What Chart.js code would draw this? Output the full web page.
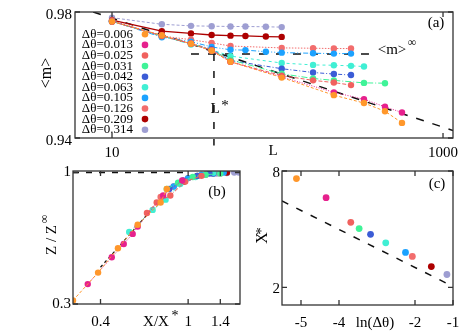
<!DOCTYPE html>
<html>
<head>
<meta charset="utf-8">
<script src="https://cdn.jsdelivr.net/npm/chart.js@4.4.1/dist/chart.umd.min.js"></script>
<style>
  html, body { margin: 0; padding: 0; background: #fff; }
  body { width: 474px; height: 332px; position: relative; overflow: hidden; }
  canvas { position: absolute; }
  #chartA { left: 0; top: 0; width: 474px; height: 160px; }
  #chartB { left: 0; top: 160px; width: 250px; height: 172px; }
  #chartC { left: 250px; top: 160px; width: 224px; height: 172px; }
</style>
</head>
<body>
<canvas id="chartA" width="474" height="160"></canvas>
<canvas id="chartB" width="250" height="172"></canvas>
<canvas id="chartC" width="224" height="172"></canvas>
<script>
// series labels and styles
const dTheta = ['0.006', '0.013', '0.025', '0.031', '0.042', '0.063', '0.105', '0.126', '0.209', '0.314'];
const colors = ['#ff972b', '#e6218d', '#f0615e', '#3ff398', '#3b5cd6', '#40efd4', '#1ca2ff', '#f26d6d', '#ad0000', '#9e9ed2'];
const dashes = [[3, 2], [1, 1.5], [4, 2], [6, 2, 1, 2], [4, 2, 1, 2], [3, 3], [5, 2, 1, 2, 1, 2], [1.5, 1.5], [], [3, 2]];

// (a) <m> against L
const sizeL = [
  [10, 20, 30, 40, 52, 106, 219, 333, 446, 565],
  [10, 20, 30, 40, 52, 106, 219, 333, 446, 565],
  [10, 20, 30, 40, 52, 106, 164, 219, 278],
  [10, 20, 30, 40, 52, 106, 164, 219, 333, 446],
  [10, 20, 30, 40, 52, 106, 164, 219, 278],
  [10, 20, 30, 40, 52, 106, 164, 219, 278, 333],
  [10, 20, 30, 40, 52, 64, 85, 106, 164, 219, 278],
  [10, 20, 30, 40, 52, 106, 164, 219, 278],
  [10, 20, 30, 40, 52, 64, 85, 106],
  [10, 20, 30, 40, 52, 64, 85, 106]
];
const meanM = [
  [0.9770, 0.9726, 0.9699, 0.9677, 0.9642, 0.9592, 0.9536, 0.9511, 0.9485, 0.9448],
  [0.9770, 0.9726, 0.9699, 0.9677, 0.9642, 0.9594, 0.9545, 0.9523, 0.9499, 0.9481],
  [0.9770, 0.9724, 0.9700, 0.9679, 0.9642, 0.9598, 0.9583, 0.9576, 0.9568],
  [0.9770, 0.9724, 0.9700, 0.9679, 0.9648, 0.9604, 0.9589, 0.9583, 0.9575, 0.9574],
  [0.9770, 0.9724, 0.9700, 0.9682, 0.9646, 0.9620, 0.9608, 0.9603, 0.9600],
  [0.9770, 0.9724, 0.9697, 0.9680, 0.9660, 0.9638, 0.9632, 0.9631, 0.9629, 0.9627],
  [0.9771, 0.9720, 0.9706, 0.9689, 0.9680, 0.9679, 0.9674, 0.9671, 0.9669, 0.9668, 0.9668],
  [0.9773, 0.9724, 0.9712, 0.9702, 0.9692, 0.9686, 0.9685, 0.9684, 0.9684],
  [0.9774, 0.9739, 0.9732, 0.9727, 0.9725, 0.9724, 0.9722, 0.9721],
  [0.9782, 0.9761, 0.9756, 0.9755, 0.9754, 0.9754, 0.9753, 0.9752]
];
const fitL = [7.7, 1150];
const fitM = [0.980, 0.9424];
const mInf = 0.9667;
const mInfL = [30, 378];
const lStar = 41.3;
const lStarM = [0.9667, 0.9376];

// (b) Z/Z_inf against X/X*
const scaledX = [
  [0.30, 0.39, 0.48, 0.59, 0.75, 0.80],
  [0.35, 0.45, 0.51, 0.56, 0.59, 0.77, 0.94],
  [0.65, 0.72, 0.83, 0.97, 1.15],
  [0.80, 0.90, 1.05, 1.20, 1.40],
  [0.82, 0.95, 1.10, 1.25],
  [0.54, 0.69, 0.79, 0.92, 1.08, 1.30],
  [0.86, 1.00, 1.15, 1.30, 1.45],
  [0.75, 0.86, 1.00, 1.20, 1.40],
  [0.96, 1.10, 1.30, 1.50],
  [1.20, 1.35, 1.50, 1.62, 1.70]
];
const scaledZ = [
  [0.31, 0.40, 0.50, 0.62, 0.76, 0.86],
  [0.36, 0.46, 0.52, 0.57, 0.61, 0.81, 0.93],
  [0.69, 0.76, 0.81, 0.92, 0.97],
  [0.86, 0.91, 0.96, 0.98, 0.99],
  [0.86, 0.93, 0.97, 0.99],
  [0.58, 0.71, 0.78, 0.90, 0.96, 1.00],
  [0.88, 0.95, 0.98, 0.99, 1.00],
  [0.80, 0.88, 0.95, 0.98, 0.99],
  [0.92, 0.97, 0.99, 1.00],
  [0.985, 0.99, 0.995, 1.00, 1.00]
];
const slopeX = [0.40, 0.70];
const slopeZ = [0.42, 0.73];
const plateauX = [0.30, 0.95];

// (c) X* against ln(dTheta)
const lnTheta = [-5.12, -4.34, -3.69, -3.47, -3.17, -2.77, -2.25, -2.07, -1.57, -1.16];
const xStar = [7.31, 5.82, 4.34, 4.03, 3.76, 3.40, 3.03, 2.89, 2.56, 2.33];
const lineLn = [-5.5, -1];
const lineX = [5.6, 2.02];

const serif = 'Liberation Serif';
Chart.defaults.font.family = serif;
Chart.defaults.font.size = 15;
Chart.defaults.color = '#000';

const framePlugin = {
  id: 'frame',
  afterDraw(chart) {
    const { ctx, chartArea: a, scales } = chart;
    ctx.save();
    ctx.strokeStyle = '#333';
    ctx.lineWidth = 1.3;
    ctx.strokeRect(a.left, a.top, a.right - a.left, a.bottom - a.top);
    ctx.beginPath();
    scales.x.ticks.forEach(t => {
      const px = scales.x.getPixelForValue(t.value);
      ctx.moveTo(px, a.bottom); ctx.lineTo(px, a.bottom - 5);
      ctx.moveTo(px, a.top); ctx.lineTo(px, a.top + 5);
    });
    scales.y.ticks.forEach(t => {
      const py = scales.y.getPixelForValue(t.value);
      ctx.moveTo(a.left, py); ctx.lineTo(a.left + 5, py);
      ctx.moveTo(a.right, py); ctx.lineTo(a.right - 5, py);
    });
    ctx.stroke();
    ctx.restore();
  }
};

const notesPlugin = {
  id: 'notes',
  afterDraw(chart, args, opts) {
    const ctx = chart.ctx;
    ctx.save();
    ctx.fillStyle = '#000';
    ctx.textAlign = 'center';
    ctx.textBaseline = 'middle';
    (opts.items || []).forEach(n => {
      ctx.save();
      ctx.font = (n.size || 15) + 'px "' + serif + '"';
      ctx.translate(n.x, n.y);
      if (n.rot) ctx.rotate(n.rot * Math.PI / 180);
      ctx.fillText(n.t, 0, 0);
      ctx.restore();
    });
    if (opts.legend) {
      ctx.font = '13px "' + serif + '"';
      ctx.textAlign = 'right';
      dTheta.forEach((d, i) => {
        const y = 34.3 + i * 10.6;
        ctx.fillStyle = '#000';
        ctx.fillText('Δθ=' + d, 133, y);
        ctx.fillStyle = colors[i];
        ctx.beginPath();
        ctx.arc(145, y, 3.3, 0, Math.PI * 2);
        ctx.fill();
      });
    }
    ctx.restore();
  }
};

function series(xs, ys, i, r) {
  return {
    label: 'Δθ=' + dTheta[i],
    data: xs.map((x, k) => ({ x: x, y: ys[k] })),
    borderColor: colors[i],
    backgroundColor: colors[i],
    borderWidth: i === 8 ? 1.3 : 1,
    borderDash: dashes[i],
    pointRadius: r,
    pointBorderWidth: 0,
    showLine: true
  };
}

function refLine(xs, ys, dash, width, clip) {
  return {
    data: xs.map((x, k) => ({ x: x, y: ys[k] })),
    borderColor: '#111',
    borderWidth: width,
    borderDash: dash,
    pointRadius: 0,
    showLine: true,
    clip: clip
  };
}

function axis(type, min, max, ticks, size, pad, offset, fmt) {
  return {
    type: type, min: min, max: max, bounds: 'data',
    grid: { display: false, drawTicks: false },
    border: { display: false },
    afterBuildTicks: s => { s.ticks = ticks.map(v => ({ value: v })); },
    afterFit: s => { if (s.isHorizontal()) s.height = size; else s.width = size; },
    ticks: { padding: pad, labelOffset: offset, autoSkip: false, maxRotation: 0, callback: fmt }
  };
}

function baseOptions(padding, scales, notes) {
  return {
    responsive: false,
    animation: false,
    events: [],
    layout: { autoPadding: false, padding: padding },
    plugins: { legend: { display: false }, tooltip: { enabled: false }, notes: notes },
    scales: scales
  };
}

// panel (a)
const dsA = dTheta.map((d, i) => series(sizeL[i], meanM[i], i, 3.2));
dsA.push(refLine(fitL, fitM, [8, 9], 1.5, true));
dsA.push(refLine(mInfL, [mInf, mInf], [8, 9], 1.5, true));
dsA.push(refLine([lStar, lStar], lStarM, [7, 10], 1.5, false));

new Chart(document.getElementById('chartA'), {
  type: 'scatter',
  data: { datasets: dsA },
  options: baseOptions({ left: 0, top: 6, right: 21, bottom: 0 }, {
    x: axis('logarithmic', 5.976, 1149, [10, 1000], 22, 6, 0, v => String(v)),
    y: axis('linear', 0.94, 0.98, [0.94, 0.98], 75, 3, 3, v => v.toFixed(2))
  }, {
    legend: true,
    items: [
      { t: '<m>', x: 47, y: 73, rot: -90, size: 16 },
      { t: 'L', x: 273, y: 151 },
      { t: 'L', x: 215, y: 109 },
      { t: '*', x: 225, y: 106, size: 15 },
      { t: '<m>', x: 392, y: 50 },
      { t: '∞', x: 412, y: 43, size: 12 },
      { t: '(a)', x: 436, y: 23 }
    ]
  }),
  plugins: [framePlugin, notesPlugin]
});

// panel (b)
const dsB = dTheta.map((d, i) => series(scaledX[i], scaledZ[i], i, 3.2));
dsB.push(refLine(slopeX, slopeZ, [3, 3], 1.2, true));
dsB.push(refLine(plateauX, [1, 1], [6, 7], 1.5, true));

new Chart(document.getElementById('chartB'), {
  type: 'scatter',
  data: { datasets: dsB },
  options: baseOptions({ left: 0, top: 10, right: 10, bottom: 0 }, {
    x: axis('logarithmic', 0.30, 1.72, [0.4, 1, 1.4], 28, 9, 0, v => String(v)),
    y: axis('logarithmic', 0.3, 1.014, [0.3, 1], 73, 2, 0, v => String(v))
  }, {
    items: [
      { t: 'Z / Z', x: 52, y: 80, rot: -90 },
      { t: '∞', x: 45, y: 59, size: 12, rot: -90 },
      { t: '(b)', x: 217, y: 32 },
      { t: 'X/X', x: 156, y: 162 },
      { t: '*', x: 175, y: 156, size: 14 }
    ]
  }),
  plugins: [framePlugin, notesPlugin]
});

// panel (c)
const dsC = dTheta.map((d, i) => ({
  data: [{ x: lnTheta[i], y: xStar[i] }],
  backgroundColor: colors[i],
  pointRadius: 3.4,
  pointBorderWidth: 0,
  showLine: false
}));
dsC.push(refLine(lineLn, lineX, [7, 9], 1.5, true));

new Chart(document.getElementById('chartC'), {
  type: 'scatter',
  data: { datasets: dsC },
  options: baseOptions({ left: 0, top: 9, right: 21, bottom: 0 }, {
    x: axis('linear', -5.5, -1, [-5, -4, -2, -1], 27, 9, 0, v => String(v)),
    y: axis('logarithmic', 1.62, 8, [2, 8], 32, 2, 2, v => String(v))
  }, {
    items: [
      { t: 'X', x: 13, y: 78, rot: -90, size: 16 },
      { t: '*', x: 12, y: 71, size: 15, rot: -90 },
      { t: 'ln(Δθ)', x: 125, y: 163 },
      { t: '(c)', x: 187, y: 24 }
    ]
  }),
  plugins: [framePlugin, notesPlugin]
});
</script>
</body>
</html>
